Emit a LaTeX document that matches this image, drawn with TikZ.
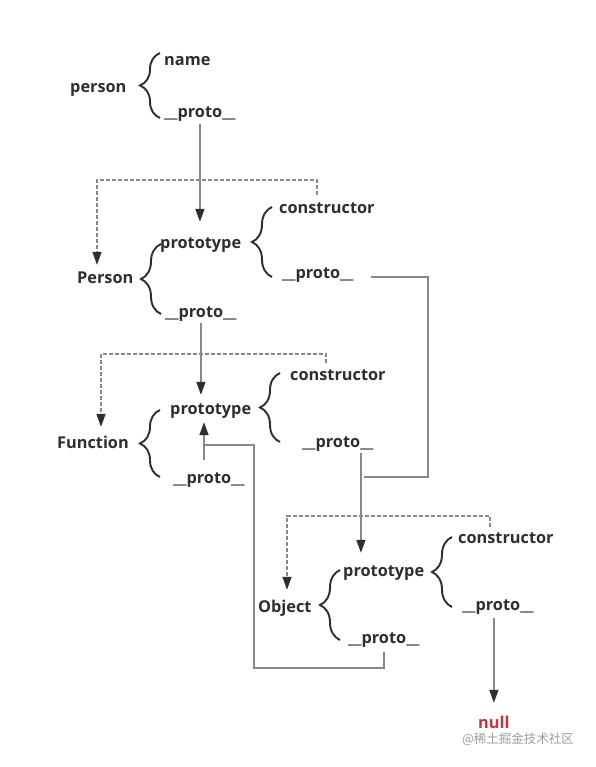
\documentclass[tikz,border=0pt]{standalone}
\usepackage{fontspec}
\setmainfont{Open Sans}
\newfontfamily\cjk{Noto Sans CJK SC}
\usepackage{tikz}
\usetikzlibrary{positioning, arrows.meta, decorations.pathreplacing}

\definecolor{linegray}{HTML}{888888}
\definecolor{inkdark}{HTML}{2E2E2E}
\definecolor{nullred}{HTML}{C8323C}

\tikzset{
    key/.style={anchor=west, inner sep=1pt, text height=14pt, text depth=2pt,
        font=\fontsize{16.3}{18}\selectfont\bfseries, text=inkdark},
    brc/.style={decorate, decoration={brace, amplitude=20pt}, draw=inkdark, line width=1.9pt},
    link/.style={draw=linegray, line width=1.6pt},
    arr/.style={link, -{Triangle[length=13pt, width=9pt, color=inkdark]}},
    ctor/.style={draw=linegray, line width=1.3pt, dash pattern=on 4pt off 2pt,
        -{Triangle[length=13pt, width=9pt, color=inkdark]}},
}

\begin{document}
\begin{tikzpicture}[x=1pt, y=-1pt]
    \useasboundingbox[fill=white] (0,0) rectangle (595,767);

    % person instance
    \node[key] (person) at (69,87) {person};
    \node[key] (personName) at (163,60) {name};
    \node[key] (personProto) at (163,112) {\_\_proto\_\_};
    \draw[brc] (160,118) -- (160,53);

    % Person constructor
    \node[key] (Person) at (76,277) {Person};
    \node[key] (PersonPrototype) at (159,242) {prototype};
    \node[key] (PersonProto) at (164,311) {\_\_proto\_\_};
    \node[key] (PersonCtor) at (278,208) {constructor};
    \node[key] (PersonPrototypeProto) at (281,272) {\_\_proto\_\_};
    \draw[brc] (161,314) -- (161,244);
    \draw[brc] (272,277) -- (272,207);

    % Function
    \node[key] (Function) at (56,442) {Function};
    \node[key] (FunctionPrototype) at (169,408) {prototype};
    \node[key] (FunctionProto) at (172,477) {\_\_proto\_\_};
    \node[key] (FunctionCtor) at (289,374) {constructor};
    \node[key] (FunctionPrototypeProto) at (301,441) {\_\_proto\_\_};
    \draw[brc] (160,477) -- (160,410);
    \draw[brc] (280,442) -- (280,373);

    % Object
    \node[key] (Object) at (257,606) {Object};
    \node[key] (ObjectPrototype) at (342,570) {prototype};
    \node[key] (ObjectProto) at (347,637) {\_\_proto\_\_};
    \node[key] (ObjectCtor) at (457,537) {constructor};
    \node[key] (ObjectPrototypeProto) at (461,604) {\_\_proto\_\_};
    \draw[brc] (340,640) -- (340,570);
    \draw[brc] (452,607) -- (452,537);

    \node[key, text=nullred] (null) at (477,722) {null};
    \node[font=\cjk\fontsize{12.5}{14}\selectfont, text=black!38] (mark) at (518,739) {@稀土掘金技术社区};

    % turning points
    \coordinate (elbowA) at (428,477);
    \coordinate (elbowB) at (254,668);
    \coordinate (fnJoin) at (204,445);
    \coordinate (d1) at (97,180);
    \coordinate (d2) at (101,354);
    \coordinate (d3) at (287,516);

    % __proto__ chain
    \draw[arr, shorten <=3pt, shorten >=11pt] (personProto.south) -- (personProto.south |- PersonPrototype.north);
    \draw[arr, shorten <=3pt, shorten >=4pt] (PersonProto.south) -- (PersonProto.south |- FunctionPrototype.north);
    \draw[link, shorten <=16pt] ([yshift=-5pt]PersonPrototypeProto.east) -| (elbowA) -- ++(-64,0);
    \draw[arr, shorten <=3pt, shorten >=8pt] ([xshift=23pt]FunctionPrototypeProto.south) -- ([xshift=23pt]FunctionPrototypeProto.south |- ObjectPrototype.north);
    \draw[arr, shorten <=8pt, shorten >=5pt] (fnJoin |- FunctionProto.north) -- (fnJoin |- FunctionPrototype.south);
    \draw[link, shorten <=6pt] (ObjectProto.south) |- (elbowB) |- (fnJoin);
    \draw[arr, shorten <=5pt, shorten >=10pt] (null |- ObjectPrototypeProto.south) -- (null.north);

    % constructor back links
    \draw[ctor, shorten <=4pt, shorten >=3pt] ([xshift=-10pt]PersonCtor.north) |- (d1) -- (d1 |- Person.north);
    \draw[ctor, shorten <=2pt, shorten >=6pt] ([xshift=-12pt]FunctionCtor.north) |- (d2) -- (d2 |- Function.north);
    \draw[ctor, shorten <=1pt, shorten >=7pt] ([xshift=-16pt]ObjectCtor.north) |- (d3) -- (d3 |- Object.north);
\end{tikzpicture}
\end{document}
